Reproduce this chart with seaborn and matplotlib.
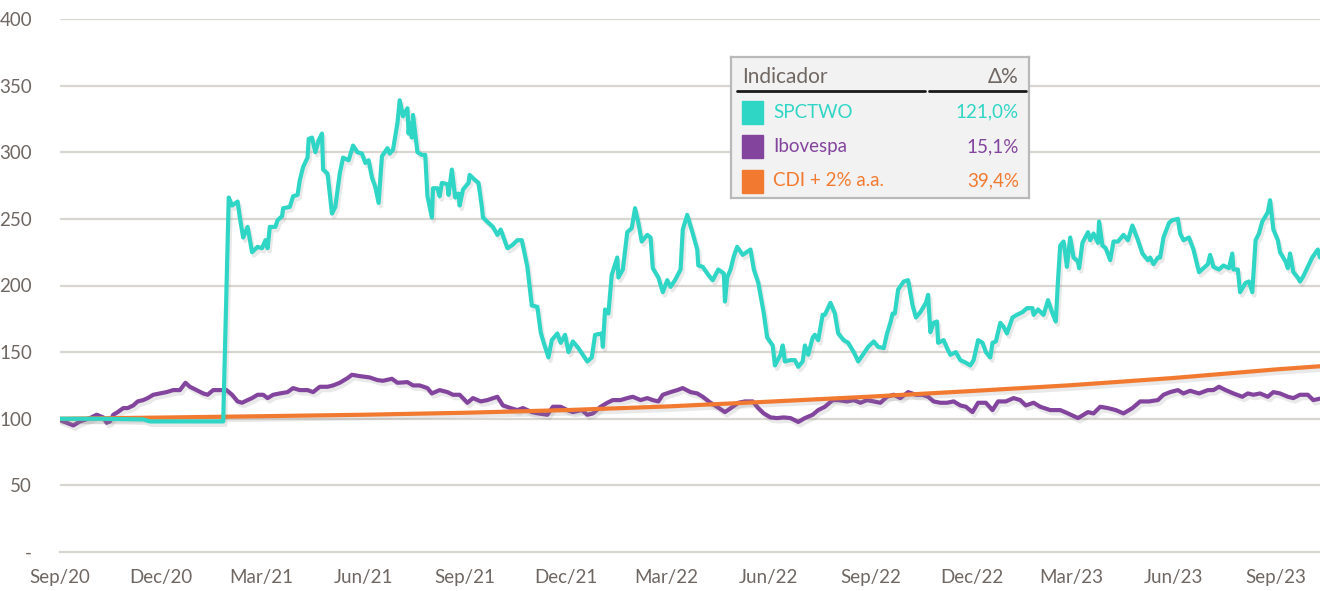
import numpy as np
import pandas as pd
import matplotlib
matplotlib.use('Agg')
import matplotlib.pyplot as plt
import matplotlib.dates as mdates
import matplotlib.patheffects as pe
from matplotlib.patches import Rectangle
import seaborn as sns

# dados (dias desde 01/09/2020, índice base 100)
start = pd.Timestamp('2020-09-01')
end_day = 1135

spctwo_day = [0, 36, 75, 81, 147, 152, 155, 160, 162, 165, 169, 173, 178, 182, 185, 187, 189, 194, 196,
              200, 201, 207, 210, 214, 216, 219, 223, 224, 227, 230, 233, 236, 237, 241, 245, 248, 252,
              255, 260, 264, 268, 272, 275, 278, 281, 284, 287, 290, 295, 297, 300, 304, 306, 309, 313,
              314, 315, 317, 318, 322, 326, 329, 331, 335, 336, 340, 342, 344, 349, 350, 353, 356, 359,
              360, 363, 368, 369, 374, 377, 380, 381, 386, 390, 394, 397, 403, 407, 412, 416, 421, 425,
              430, 433, 435, 440, 443, 448, 451, 455, 458, 462, 467, 471, 475, 479, 482, 488, 489, 491,
              494, 497, 502, 503, 507, 511, 515, 518, 521, 524, 529, 532, 534, 539, 543, 547, 550, 554,
              559, 561, 565, 570, 574, 575, 579, 584, 588, 593, 598, 599, 601, 604, 607, 610, 615, 622,
              625, 629, 634, 637, 642, 644, 649, 651, 653, 658, 662, 665, 669, 671, 674, 678, 680, 683,
              687, 689, 694, 698, 701, 706, 710, 715, 719, 724, 728, 733, 737, 742, 745, 748, 750, 752,
              755, 760, 764, 768, 771, 775, 780, 782, 784, 787, 790, 791, 796, 799, 802, 807, 811, 816,
              820, 823, 827, 831, 834, 838, 840, 843, 847, 850, 853, 858, 862, 867, 871, 876, 877, 881,
              886, 890, 894, 897, 899, 901, 904, 906, 907, 910, 913, 917, 918, 921, 926, 928, 931, 935,
              936, 939, 942, 946, 949, 953, 958, 962, 966, 971, 975, 980, 982, 985, 989, 991, 994, 999,
              1002, 1007, 1009, 1012, 1017, 1021, 1026, 1030, 1034, 1036, 1039, 1044, 1048, 1053, 1056,
              1057, 1061, 1063, 1068, 1071, 1074, 1077, 1080, 1083, 1088, 1090, 1093, 1097, 1099, 1104,
              1106, 1108, 1111, 1115, 1117, 1120, 1124, 1128, 1133, 1135]
spctwo_val = [100, 100, 99.5, 98, 98, 266, 260, 263, 251, 236, 244, 225, 229, 228, 234, 228, 244, 244, 249,
              252, 258, 259, 267, 268, 279, 289, 296, 310, 311, 300, 309, 314, 287, 284, 254, 259, 284,
              296, 294, 305, 300, 299, 292, 294, 281, 274, 262, 297, 303, 299, 302, 322, 339, 327, 333,
              314, 322, 311, 328, 300, 298, 298, 267, 251, 273, 273, 267, 277, 276, 268, 287, 266, 269,
              260, 272, 277, 283, 279, 277, 259, 251, 247, 244, 238, 242, 228, 230, 234, 234, 214, 185,
              184, 165, 159, 146, 159, 164, 157, 163, 150, 158, 153, 148, 143, 146, 163, 164, 154, 182,
              179, 208, 221, 206, 212, 240, 243, 258, 247, 233, 238, 236, 213, 206, 195, 204, 199, 204,
              212, 242, 253, 239, 227, 215, 214, 208, 204, 212, 209, 188, 206, 212, 222, 229, 223, 227,
              212, 202, 179, 161, 155, 140, 148, 155, 143, 144, 144, 139, 143, 155, 148, 161, 163, 159,
              178, 178, 187, 179, 164, 159, 157, 150, 143, 149, 154, 158, 154, 153, 164, 172, 179, 179,
              197, 203, 204, 185, 176, 180, 187, 193, 165, 172, 173, 157, 159, 153, 148, 150, 144, 142,
              140, 144, 159, 157, 150, 146, 157, 158, 172, 169, 164, 176, 178, 180, 183, 183, 178, 182,
              178, 189, 179, 173, 204, 230, 233, 221, 214, 236, 221, 218, 213, 232, 240, 234, 239, 232,
              248, 230, 228, 219, 233, 233, 238, 234, 245, 234, 224, 219, 221, 216, 221, 221, 236, 247,
              249, 250, 239, 234, 236, 227, 210, 213, 216, 223, 214, 212, 215, 213, 224,
              212, 212, 195, 202, 203, 195, 234, 239, 248, 255, 264, 242, 234, 225, 218,
              213, 224, 210, 206, 203, 207, 214, 221, 227, 221]

ibov_day = [0, 6, 12, 18, 27, 33, 39, 42, 45, 48, 52, 57, 61, 66, 70, 75, 79, 84, 90, 96, 102, 108, 113,
            117, 123, 129, 133, 138, 144, 150, 155, 160, 164, 169, 173, 178, 183, 187, 192, 198, 205, 210,
            216, 223, 228, 234, 241, 246, 252, 259, 263, 270, 279, 286, 291, 299, 304, 313, 318, 324, 331,
            335, 342, 349, 354, 360, 367, 372, 379, 385, 394, 399, 406, 412, 417, 425, 431, 439, 444, 451,
            457, 462, 470, 475, 480, 487, 493, 498, 505, 511, 516, 523, 529, 534, 539, 543, 550, 556, 561,
            568, 574, 579, 586, 590, 599, 606, 611, 617, 624, 629, 634, 640, 646, 652, 658, 665, 671, 678,
            683, 689, 696, 701, 709, 715, 721, 727, 733, 739, 745, 751, 757, 764, 771, 777, 782, 787, 793,
            799, 805, 811, 816, 822, 827, 834, 840, 845, 852, 859, 865, 870, 877, 883, 892, 901, 908, 917,
            926, 931, 937, 944, 951, 958, 966, 973, 981, 989, 994, 1000, 1007, 1012, 1018, 1026, 1034,
            1039, 1044, 1050, 1057, 1065, 1070, 1075, 1081, 1088, 1093, 1099, 1106, 1111, 1117, 1124,
            1129, 1135]
ibov_val = [99, 97, 95, 98, 100.5, 103, 101, 97, 98, 103, 105, 108, 108, 110, 113, 114, 115.5, 118, 119, 120,
            121.5, 121.5, 127, 124, 121.5, 119, 118, 121.5, 121.5, 121.5, 118, 113, 112, 114, 115.5, 118,
            118, 115.5, 118, 119, 120, 123, 121.5, 121.5, 120, 124, 124, 125, 127, 130.5, 133, 132, 131,
            129, 128.5, 130, 127, 127.5, 125, 125, 123, 119, 121.5, 120, 118, 118, 112, 115.5, 113, 114,
            116.5, 110, 108, 106.5, 108, 105, 104, 103, 109, 109, 106.5, 105, 106.5, 103, 104, 109, 112,
            114, 114, 115.5, 116.5, 114, 115.5, 114, 113, 118, 120, 121.5, 123, 120, 119, 116.5, 112, 110,
            105, 109, 112, 113, 113, 108, 104, 101, 100.5, 101, 100.5, 97.6, 100.5, 103, 106.5, 109, 114,
            114, 113, 114, 112, 114, 113, 112, 116.5, 118, 115.5, 120, 118, 118, 116.5, 113, 112, 112,
            113, 110, 109, 105, 112, 112, 106.5, 113, 113, 115.5, 114, 110, 112, 109, 106.5, 106.5, 104,
            100.5, 105, 104, 109, 108, 106.5, 104, 108, 113, 113, 114, 118, 120, 121.5, 119, 121, 119,
            121.5, 121.5, 124, 121.5, 119, 116.5, 119, 118, 119, 116.5, 120, 119, 116.5, 115.5, 118,
            118, 114, 115.1]

cdi_day = [0, 91, 181, 273, 365, 456, 546, 638, 730, 821, 911, 1003, 1095, 1135]
cdi_val = [100, 100.9, 101.9, 103.0, 104.5, 106.5, 109.2, 112.8, 116.6, 120.8, 125.2, 130.6, 137.0, 139.4]

legend_names = ['SPCTWO', 'Ibovespa', 'CDI + 2% a.a.']
legend_changes = ['121,0%', '15,1%', '39,4%']
colors = ['#2fd6c5', '#83449d', '#f27a30']

ytick_vals = [0, 50, 100, 150, 200, 250, 300, 350, 400]
ytick_labels = ['-', '50', '100', '150', '200', '250', '300', '350', '400']
xtick_dates = ['2020-09-01', '2020-12-01', '2021-03-01', '2021-06-01', '2021-09-01', '2021-12-01',
               '2022-03-01', '2022-06-01', '2022-09-01', '2022-12-01', '2023-03-01', '2023-06-01',
               '2023-09-01']
xtick_labels = ['Sep/20', 'Dec/20', 'Mar/21', 'Jun/21', 'Sep/21', 'Dec/21', 'Mar/22', 'Jun/22',
                'Sep/22', 'Dec/22', 'Mar/23', 'Jun/23', 'Sep/23']


def to_frame(days, vals, name):
    return pd.DataFrame({'data': start + pd.to_timedelta(days, unit='D'),
                         'valor': vals, 'serie': name})


df = pd.concat([to_frame(ibov_day, ibov_val, legend_names[1]),
                to_frame(cdi_day, cdi_val, legend_names[2]),
                to_frame(spctwo_day, spctwo_val, legend_names[0])], ignore_index=True)

sns.set_style('white')
plt.rcParams['font.family'] = ['Lato', 'DejaVu Sans']
txt_color = '#6f6762'
grid_color = '#d9d5d0'

fig = plt.figure(figsize=(13.2, 5.91), dpi=100)
ax = fig.add_axes([60 / 1320, 1 - 552 / 591, 1260 / 1320, 533 / 591])

palette = {legend_names[i]: colors[i] for i in range(3)}
sns.lineplot(data=df, x='data', y='valor', hue='serie', palette=palette,
             hue_order=[legend_names[1], legend_names[2], legend_names[0]],
             estimator=None, linewidth=3.0, legend=False, ax=ax)

shadow = [pe.SimpleLineShadow(offset=(1.5, -2.5), shadow_color='#888888', alpha=0.18), pe.Normal()]
for ln in ax.get_lines():
    ln.set_path_effects(shadow)
    ln.set_solid_joinstyle('round')

ax.set_ylim(0, 400)
ax.set_xlim(start, start + pd.Timedelta(days=end_day))
ax.set_yticks(ytick_vals)
ax.set_yticklabels(ytick_labels)
ax.set_xticks(pd.to_datetime(xtick_dates))
ax.set_xticklabels(xtick_labels)
ax.set_xlabel('')
ax.set_ylabel('')

for v in ytick_vals[1:]:
    ax.axhline(v, color=grid_color, linewidth=1.6, zorder=0)

for s in ['top', 'right', 'left']:
    ax.spines[s].set_visible(False)
ax.spines['bottom'].set_color(grid_color)
ax.spines['bottom'].set_linewidth(1.6)
ax.tick_params(axis='y', length=0, pad=20, labelsize=13.5, labelcolor=txt_color)
ax.tick_params(axis='x', length=7, width=1.6, color=grid_color, pad=5, labelsize=13.5,
               labelcolor=txt_color)

# quadro de legenda
lg = fig.add_axes([731 / 1320, 1 - 198 / 591, 298 / 1320, 141 / 591])
lg.set_xlim(0, 298)
lg.set_ylim(141, 0)
lg.set_facecolor('#f2f2f2')
lg.set_xticks([])
lg.set_yticks([])
for s in lg.spines.values():
    s.set_color('#b9b9b9')
    s.set_linewidth(1.6)

lg.text(11, 20, 'Indicador', fontsize=15, color=txt_color, va='center', ha='left')
lg.text(288, 20, 'Δ%', fontsize=15, color=txt_color, va='center', ha='right')
lg.plot([6, 194], [33.5, 33.5], color='#1a1a1a', linewidth=2)
lg.plot([198, 295], [33.5, 33.5], color='#1a1a1a', linewidth=2)
row_y = [55, 89.5, 124]
for i in range(3):
    lg.add_patch(Rectangle((11, row_y[i] - 11.5), 21, 23, color=colors[i]))
    lg.text(42, row_y[i], legend_names[i], fontsize=13.5, color=colors[i], va='center', ha='left')
    lg.text(288, row_y[i], legend_changes[i], fontsize=13.5, color=colors[i], va='center', ha='right')

fig.savefig('out.png', dpi=100)
